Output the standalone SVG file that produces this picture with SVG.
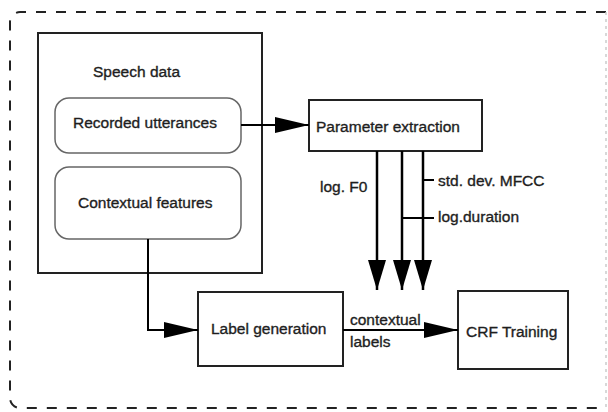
<svg xmlns="http://www.w3.org/2000/svg" width="608" height="412" viewBox="0 0 608 412">
  <defs>
    <marker id="ah" viewBox="0 0 34 16" refX="34" refY="8" markerWidth="34" markerHeight="16" markerUnits="userSpaceOnUse" orient="auto">
      <path d="M0,0 L34,8 L0,16 z" fill="#000"/>
    </marker>
    <marker id="av" viewBox="0 0 30 18" refX="30" refY="9" markerWidth="30" markerHeight="18" markerUnits="userSpaceOnUse" orient="auto">
      <path d="M0,0 L30,9 L0,18 z" fill="#000"/>
    </marker>
  </defs>
  <style>
    text { font-family: "Liberation Sans", Arial, sans-serif; font-size: 15.5px; fill: #1e1e1e; stroke: #1e1e1e; stroke-width: 0.35; }
    .box { fill: none; stroke: #222; stroke-width: 2; }
    .rbox { fill: none; stroke: #666; stroke-width: 1.5; }
    .conn { fill: none; stroke: #000; stroke-width: 2; }
    .vconn { fill: none; stroke: #000; stroke-width: 2.5; }
  </style>
  <rect x="0" y="0" width="608" height="412" fill="#fff"/>
  <path id="frame" d="M606,12 H20 A10,10 0 0 0 10,22 V398 A10,10 0 0 0 20,408 H606" fill="none" stroke="#222" stroke-width="2" stroke-dasharray="10 10"/>
  <path d="M606,12 V408" fill="none" stroke="#ccc" stroke-width="1.5" stroke-dasharray="3 4"/>

  <g id="speech-data">
    <rect class="box" x="38" y="33" width="224" height="240"/>
    <text x="93" y="77">Speech data</text>
  </g>
  <g id="recorded-utterances">
    <rect class="rbox" x="55" y="98" width="186" height="55" rx="14"/>
    <text x="73" y="128">Recorded utterances</text>
  </g>
  <g id="contextual-features">
    <rect class="rbox" x="55" y="167" width="186" height="72" rx="14"/>
    <text x="78" y="208">Contextual features</text>
  </g>
  <g id="parameter-extraction">
    <rect class="box" x="309" y="100" width="173" height="51"/>
    <text x="316" y="132">Parameter extraction</text>
  </g>
  <g id="label-generation">
    <rect class="box" x="198" y="292" width="145" height="74"/>
    <text x="211" y="334">Label generation</text>
  </g>
  <g id="crf-training">
    <rect class="box" x="458" y="291" width="110" height="78"/>
    <text x="466" y="337">CRF Training</text>
  </g>

  <g id="connectors">
    <path class="conn" d="M241,125 H309" marker-end="url(#ah)"/>
    <path class="conn" d="M148,239 V330 H198" marker-end="url(#ah)"/>
    <path class="vconn" d="M377,151 V290" marker-end="url(#av)"/>
    <path class="vconn" d="M402,151 V290" marker-end="url(#av)"/>
    <path class="vconn" d="M423,151 V290" marker-end="url(#av)"/>
    <path class="conn" d="M343,330 H458" marker-end="url(#ah)"/>
    <path class="conn" stroke-width="1.5" d="M423,180 H434"/>
    <path class="conn" stroke-width="1.5" d="M402,218 H434"/>
    <text x="320" y="192">log. F0</text>
    <text x="438" y="186">std. dev. MFCC</text>
    <text x="438" y="222">log.duration</text>
    <text x="350" y="325">contextual</text>
    <text x="350" y="347">labels</text>
  </g>
</svg>
